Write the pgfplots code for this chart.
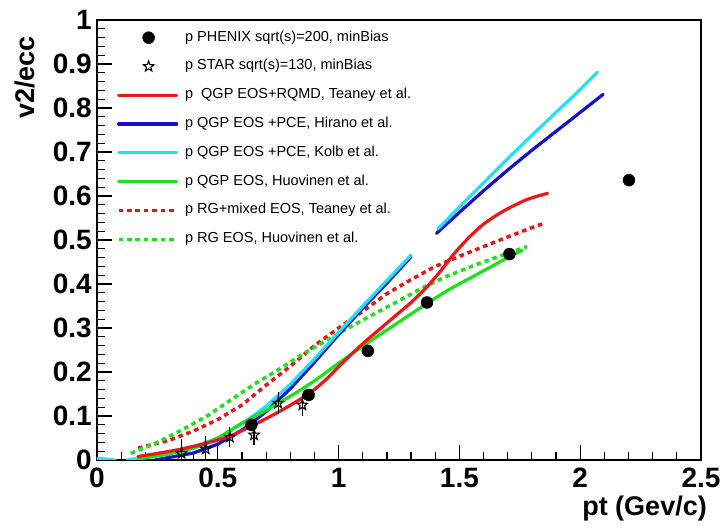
\documentclass[border=0pt]{standalone}
\usepackage{fontspec}
\setmainfont{Liberation Sans}
\usepackage{pgfplots}
\pgfplotsset{compat=1.18}
\definecolor{cRed}{RGB}{238,22,22}
\definecolor{cBlue}{RGB}{18,18,205}
\definecolor{cCyan}{RGB}{35,225,245}
\definecolor{cGreen}{RGB}{30,225,30}
\definecolor{cDRed}{RGB}{225,25,25}
\pgfdeclareplotmark{ostar}{%
  \pgfpathmoveto{\pgfpointpolar{90}{\pgfplotmarksize}}%
  \pgfpathlineto{\pgfpointpolar{126}{0.42*\pgfplotmarksize}}%
  \pgfpathlineto{\pgfpointpolar{162}{\pgfplotmarksize}}%
  \pgfpathlineto{\pgfpointpolar{198}{0.42*\pgfplotmarksize}}%
  \pgfpathlineto{\pgfpointpolar{234}{\pgfplotmarksize}}%
  \pgfpathlineto{\pgfpointpolar{270}{0.42*\pgfplotmarksize}}%
  \pgfpathlineto{\pgfpointpolar{306}{\pgfplotmarksize}}%
  \pgfpathlineto{\pgfpointpolar{342}{0.42*\pgfplotmarksize}}%
  \pgfpathlineto{\pgfpointpolar{18}{\pgfplotmarksize}}%
  \pgfpathlineto{\pgfpointpolar{54}{0.42*\pgfplotmarksize}}%
  \pgfpathclose
  \pgfusepathqstroke
}
\pgfplotsset{
  markleg/.style={legend image code/.code={\draw[##1] plot coordinates {(30pt,0pt)};}},
  solidc/.style={line width=3.2pt, line join=round, line cap=round},
  dotc/.style={line width=3.5pt, dash pattern=on 4.6pt off 3.8pt},
}
\begin{document}
\begin{tikzpicture}
\useasboundingbox (-97pt,-72pt) rectangle (624pt,460pt);
\begin{axis}[
  at={(0pt,0pt)}, anchor=south west,
  scale only axis, width=604pt, height=440pt,
  xmin=0, xmax=2.5, ymin=0, ymax=1,
  xtick={0,0.5,1,1.5,2,2.5}, xticklabels={0,0.5,1,1.5,2,2.5},
  ytick={0,0.1,0.2,0.3,0.4,0.5,0.6,0.7,0.8,0.9,1},
  yticklabels={0,0.1,0.2,0.3,0.4,0.5,0.6,0.7,0.8,0.9,1},
  minor x tick num=4, minor y tick num=4,
  tick pos=left, tick align=inside,
  major tick length=15pt, minor tick length=8pt,
  tick style={black, line width=1.2pt},
  axis line style={line width=1.3pt},
  ticklabel style={font=\fontsize{28}{28}\selectfont\bfseries, inner sep=0pt},
  xticklabel style={yshift=-8pt},
  yticklabel style={xshift=-5pt},
  /pgf/number format/assume math mode=true,
  xlabel={pt (Gev/c)}, ylabel={v2/ecc},
  every axis x label/.style={at={(rel axis cs:1,0)}, anchor=base east, inner sep=0pt, xshift=6pt, yshift=-56pt, font=\fontsize{27}{27}\selectfont\bfseries},
  every axis y label/.style={at={(rel axis cs:0,1)}, xshift=-72pt, yshift=-16pt, rotate=90, anchor=east, inner sep=0pt, font=\fontsize{27}{27}\selectfont\bfseries},
  legend style={at={(rel axis cs:0,1)}, anchor=north west, xshift=19.7pt, yshift=-11pt,
    draw=none, fill=none, inner sep=0pt, row sep=15.8pt, column sep=6.7pt,
    font=\fontsize{14.5}{14.5}\selectfont,
    nodes={inner sep=0pt, text height=10pt, text depth=3pt}},
  legend cell align=left,
  legend image code/.code={\draw[#1] (0pt,0pt) -- (58pt,0pt);},
]
\addlegendimage{black, only marks, mark=*, mark size=6pt, markleg}
\addlegendentry{p PHENIX sqrt(s)=200, minBias}
\addlegendimage{black, only marks, mark=ostar, mark size=5.5pt, mark options={line width=1.1pt}, markleg}
\addlegendentry{p STAR sqrt(s)=130, minBias}
\addlegendimage{cRed, solidc}
\addlegendentry{p\ \ QGP EOS+RQMD, Teaney et al.}
\addlegendimage{cBlue, solidc}
\addlegendentry{p QGP EOS +PCE, Hirano et al.}
\addlegendimage{cCyan, solidc}
\addlegendentry{p QGP EOS +PCE, Kolb et al.}
\addlegendimage{cGreen, solidc}
\addlegendentry{p QGP EOS, Huovinen et al.}
\addlegendimage{cDRed, dotc}
\addlegendentry{p RG+mixed EOS, Teaney et al.}
\addlegendimage{cGreen, dotc}
\addlegendentry{p RG EOS, Huovinen et al.}

% RG+mixed EOS, Teaney (red dotted)
\addplot[cDRed, dotc, forget plot] coordinates {
(0.17,0.027) (0.3,0.045) (0.4,0.066) (0.5,0.092) (0.6,0.125) (0.7,0.17)
(0.8,0.213) (0.9,0.26) (1.0,0.3) (1.1,0.338) (1.2,0.378) (1.3,0.41)
(1.4,0.44) (1.5,0.463) (1.6,0.485) (1.7,0.507) (1.79,0.526) (1.85,0.538)};
% RG EOS, Huovinen (green dotted)
\addplot[cGreen, dotc, forget plot] coordinates {
(0.14,0.015) (0.25,0.04) (0.35,0.068) (0.45,0.098) (0.55,0.135) (0.65,0.172)
(0.75,0.205) (0.85,0.24) (0.95,0.272) (1.05,0.303) (1.15,0.333) (1.25,0.362)
(1.35,0.392) (1.45,0.418) (1.55,0.44) (1.65,0.46) (1.78,0.485)};
% QGP EOS+PCE, Hirano (blue), two visible pieces
\addplot[cBlue, solidc, forget plot] coordinates {
(0.24,0.0) (0.3,0.006) (0.4,0.016) (0.5,0.036) (0.6,0.068) (0.7,0.11)
(0.8,0.162) (0.9,0.222) (1.0,0.285) (1.1,0.345) (1.2,0.402) (1.30,0.462)};
\addplot[cBlue, solidc, forget plot] coordinates {
(1.405,0.515) (1.5,0.563) (1.6,0.612) (1.7,0.659) (1.8,0.704) (1.9,0.747) (2.0,0.79) (2.095,0.831)};
% QGP EOS+PCE, Kolb (cyan), two visible pieces
\addplot[cCyan, solidc, forget plot] coordinates {
(0,0.004) (0.07,0.0) (0.1,-0.008) (0.13,0.0) (0.2,0.008) (0.3,0.018) (0.4,0.03)
(0.5,0.05) (0.6,0.082) (0.7,0.122) (0.8,0.172) (0.9,0.23) (1.0,0.29)
(1.1,0.35) (1.2,0.408) (1.3,0.466)};
\addplot[cCyan, solidc, forget plot] coordinates {
(1.41,0.525) (1.5,0.575) (1.6,0.630) (1.7,0.685) (1.8,0.738) (1.9,0.79) (2.0,0.842) (2.072,0.882)};
% QGP EOS, Huovinen (green)
\addplot[cGreen, solidc, forget plot, smooth] coordinates {
(0.17,0.002) (0.3,0.014) (0.4,0.027) (0.5,0.05) (0.6,0.084) (0.7,0.113)
(0.8,0.145) (0.9,0.18) (1.0,0.22) (1.12,0.266) (1.24,0.31)
(1.35,0.35) (1.45,0.385) (1.55,0.415) (1.65,0.445) (1.72,0.466) (1.76,0.476)};
% QGP EOS+RQMD, Teaney (red)
\addplot[cRed, solidc, forget plot, smooth] coordinates {
(0.17,0.008) (0.25,0.015) (0.35,0.025) (0.45,0.038) (0.55,0.054) (0.63,0.075)
(0.70,0.094) (0.78,0.118) (0.88,0.152) (0.95,0.184) (1.00,0.212) (1.06,0.244)
(1.12,0.274) (1.18,0.302) (1.24,0.33) (1.30,0.358) (1.36,0.39) (1.42,0.428)
(1.48,0.47) (1.54,0.506) (1.60,0.536) (1.68,0.565) (1.78,0.592) (1.865,0.606)};
% STAR
\addplot[black, only marks, mark=ostar, mark size=5.5pt, mark options={line width=1.1pt}, forget plot,
  error bars/.cd, y dir=both, y explicit,
  error bar style={line width=1.1pt},
  error mark options={mark size=3.5pt, line width=1.1pt}]
  table[x=x, y=y, y error=e] {
x y e
0.35 0.015 0.025
0.45 0.025 0.022
0.55 0.052 0.014
0.65 0.057 0.015
0.75 0.129 0.017
0.85 0.125 0.016
};
% PHENIX
\addplot[black, only marks, mark=*, mark size=6pt, forget plot] coordinates {
(0.639,0.080) (0.876,0.148) (1.121,0.248) (1.366,0.358) (1.707,0.468) (2.202,0.636)};
\end{axis}
\end{tikzpicture}
\end{document}
